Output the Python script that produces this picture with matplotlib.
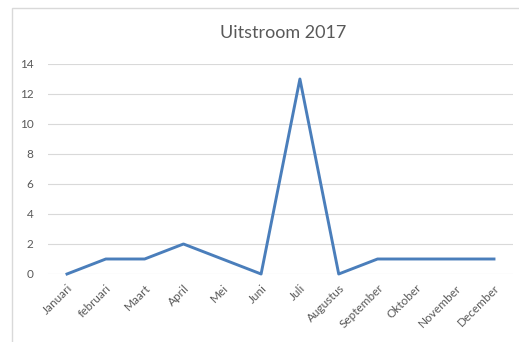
import matplotlib
matplotlib.use("Agg")
from matplotlib import pyplot as plt
from matplotlib.patches import Rectangle

# data
maanden = ['Januari', 'februari', 'Maart', 'April', 'Mei', 'Juni', 'Juli',
           'Augustus', 'September', 'Oktober', 'November', 'December']
uitstroom = [0, 1, 1, 2, 1, 0, 13, 0, 1, 1, 1, 1]
y_ticks = [0, 2, 4, 6, 8, 10, 12, 14]

plt.rcParams['font.family'] = ['Lato', 'DejaVu Sans']

fig = plt.figure(figsize=(5.19, 3.42), dpi=100)
fig.patches.append(Rectangle((12 / 519, -0.01), 1.0, 1 - 8 / 342 + 0.01,
                             transform=fig.transFigure, fill=False,
                             edgecolor='#d9d9d9', linewidth=1))

ax = fig.add_axes([47.6 / 519, 1 - 274 / 342, (513.4 - 47.6) / 519, (274 - 64) / 342])
x = list(range(len(maanden)))
ax.plot(x, uitstroom, color='#4a7ebb', linewidth=2.1, clip_on=False,
        solid_joinstyle='round')

ax.set_xlim(-0.5, len(maanden) - 0.5)
ax.set_ylim(0, 14)
ax.set_yticks(y_ticks)
ax.set_xticks(x)
ax.set_xticklabels(maanden, rotation=45, ha='right', rotation_mode='anchor')
ax.tick_params(axis='both', length=0, labelsize=8.5, colors='#595959')
ax.tick_params(axis='y', pad=10)
ax.tick_params(axis='x', pad=6)
ax.grid(axis='y', color='#d9d9d9', linewidth=0.8)
ax.set_axisbelow(True)
for s in ax.spines.values():
    s.set_visible(False)

fig.text(283 / 519, 1 - 33 / 342, 'Uitstroom 2017', ha='center', va='center',
         fontsize=13, color='#595959')

plt.savefig('out.png', dpi=100)
